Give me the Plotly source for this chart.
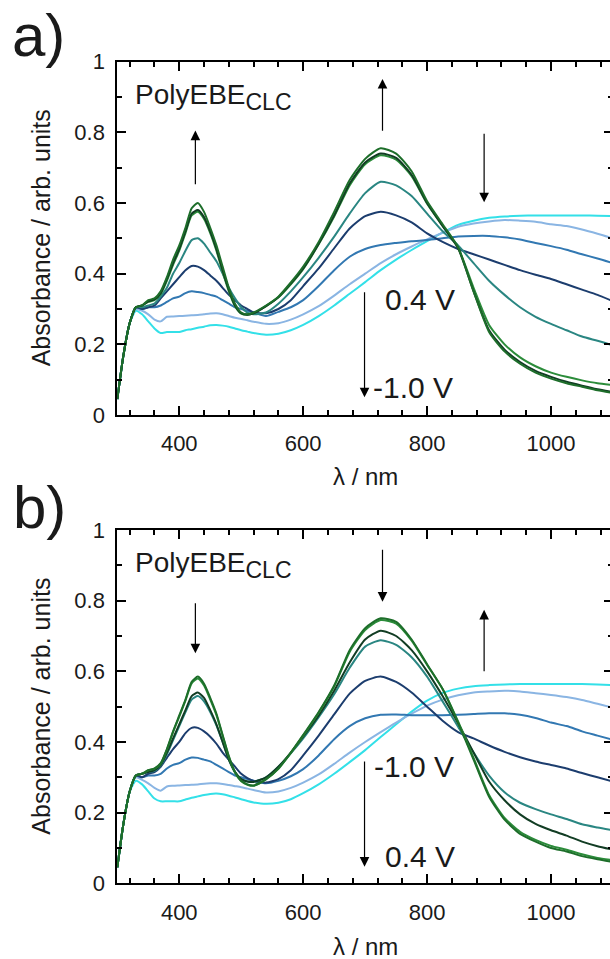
import plotly.graph_objects as go

W, H = 614, 959

wl = [300, 310, 320, 330, 340, 350, 360, 370, 380, 390, 400, 410, 420, 430, 440, 450, 460, 470,
      480, 490, 500, 510, 520, 540, 560, 580, 600, 625, 650, 675, 700, 725, 750, 775, 800, 825,
      850, 875, 900, 925, 950, 975, 1000, 1025, 1050, 1075, 1100]

# ---------- panel a ----------
a_green1 = [.045, .17, .26, .305, .31, .325, .33, .35, .39, .44, .48, .53, .585, .60, .575, .53, .48, .42,
            .36, .315, .29, .285, .29, .31, .335, .375, .42, .49, .575, .665, .725, .755, .74, .69, .605, .54,
            .475, .35, .235, .18, .145, .12, .103, .09, .08, .07, .062]
a_green2 = [.045, .17, .26, .305, .31, .322, .327, .345, .385, .43, .47, .52, .57, .58, .56, .52, .47, .41,
            .355, .31, .288, .284, .288, .308, .333, .372, .415, .485, .565, .655, .715, .74, .728, .68, .60, .535,
            .472, .35, .24, .185, .15, .125, .108, .094, .083, .073, .065]
a_green3 = [.045, .17, .26, .305, .31, .32, .325, .342, .38, .425, .465, .515, .565, .575, .555, .515, .465, .405,
            .35, .308, .287, .284, .288, .308, .333, .37, .413, .483, .562, .65, .71, .735, .723, .676, .598, .535,
            .474, .36, .255, .2, .163, .138, .12, .108, .098, .09, .085]
a_teal = [.045, .17, .26, .305, .305, .31, .315, .335, .36, .40, .43, .465, .495, .50, .485, .46, .435, .40,
          .36, .33, .305, .29, .285, .29, .315, .35, .39, .445, .505, .57, .628, .66, .65, .62, .57, .52,
          .48, .43, .38, .34, .305, .278, .258, .24, .222, .21, .197]
a_navy = [.045, .17, .26, .305, .30, .305, .31, .33, .35, .37, .39, .41, .422, .42, .41, .395, .38, .36,
          .34, .325, .31, .30, .29, .288, .30, .325, .365, .415, .472, .528, .563, .575, .565, .545, .514, .49,
          .47, .455, .44, .425, .41, .397, .385, .37, .355, .34, .322]
a_blue = [.045, .17, .26, .305, .30, .305, .305, .31, .32, .33, .335, .345, .35, .348, .345, .34, .335, .325,
          .315, .305, .30, .295, .29, .28, .292, .305, .325, .365, .41, .448, .47, .481, .487, .492, .495, .50,
          .505, .507, .507, .503, .497, .487, .478, .468, .455, .443, .43]
a_lblue = [.045, .17, .26, .30, .295, .285, .27, .265, .278, .279, .28, .281, .282, .283, .285, .287, .288, .285,
           .28, .275, .272, .268, .264, .258, .26, .27, .285, .308, .338, .37, .40, .43, .455, .477, .497, .516,
           .533, .542, .548, .552, .55, .547, .54, .535, .525, .513, .50]
a_cyan = [.045, .17, .26, .295, .285, .265, .245, .232, .235, .235, .235, .24, .243, .247, .25, .254, .255, .253,
          .25, .245, .24, .236, .232, .227, .23, .24, .255, .28, .31, .343, .376, .41, .44, .467, .492, .516,
          .538, .55, .558, .562, .564, .565, .565, .565, .565, .564, .563]

# ---------- panel b ----------
b_green1 = [.045, .17, .26, .305, .31, .32, .325, .34, .38, .43, .475, .52, .57, .585, .565, .525, .48, .42,
            .36, .315, .29, .28, .277, .295, .325, .37, .42, .485, .56, .66, .722, .75, .74, .69, .62, .55,
            .455, .35, .245, .18, .14, .118, .10, .09, .077, .068, .06]
b_green2 = [.045, .17, .26, .305, .31, .32, .324, .338, .378, .428, .472, .517, .566, .58, .56, .52, .476, .417,
            .358, .313, .289, .279, .276, .294, .324, .369, .418, .483, .557, .655, .717, .745, .735, .687, .618, .55,
            .458, .355, .25, .185, .146, .123, .106, .095, .082, .072, .065]
b_dark = [.045, .17, .26, .305, .31, .315, .32, .335, .37, .41, .45, .49, .53, .54, .525, .49, .45, .40,
          .35, .315, .295, .288, .287, .30, .33, .37, .415, .475, .545, .625, .69, .715, .70, .66, .60, .53,
          .453, .37, .288, .235, .195, .168, .15, .135, .118, .105, .095]
b_teal = [.045, .17, .26, .305, .31, .315, .318, .333, .365, .405, .445, .485, .52, .53, .515, .485, .447, .40,
          .35, .315, .295, .288, .287, .30, .33, .368, .41, .47, .535, .61, .67, .688, .675, .64, .585, .515,
          .443, .37, .305, .258, .228, .21, .195, .182, .167, .158, .15]
b_navy = [.045, .17, .26, .305, .30, .31, .315, .33, .355, .38, .40, .425, .44, .44, .43, .415, .395, .37,
          .35, .33, .31, .298, .29, .285, .295, .32, .362, .418, .478, .537, .573, .585, .57, .54, .50, .46,
          .428, .41, .39, .372, .357, .345, .335, .325, .312, .30, .288]
b_blue = [.045, .17, .26, .305, .30, .305, .305, .31, .325, .335, .34, .35, .356, .355, .35, .345, .335, .325,
          .315, .305, .30, .295, .29, .283, .29, .303, .323, .362, .408, .445, .467, .477, .478, .476, .476, .476,
          .477, .479, .481, .481, .477, .468, .455, .445, .43, .418, .406]
b_lblue = [.045, .17, .26, .30, .293, .283, .27, .262, .274, .276, .277, .278, .279, .28, .282, .283, .283, .281,
           .278, .275, .272, .268, .264, .257, .26, .27, .285, .308, .338, .37, .40, .428, .455, .48, .503, .52,
           .532, .54, .543, .545, .543, .538, .533, .527, .519, .508, .497]
b_cyan = [.045, .17, .26, .29, .28, .26, .24, .232, .232, .232, .232, .237, .242, .246, .25, .253, .254, .252,
          .248, .243, .238, .233, .229, .225, .228, .238, .255, .28, .31, .343, .377, .414, .45, .486, .517, .539,
          .551, .558, .561, .563, .564, .564, .564, .564, .564, .563, .561]

C_CYAN = "#33e0e8"
C_LBLUE = "#8ab5e3"
C_BLUE = "#3278b2"
C_NAVY = "#1c3d6e"
C_TEAL = "#2a8682"
C_DARK = "#123d24"
C_G1 = "#1d6e2a"
C_G2 = "#2b8c3a"

series_a = [(a_cyan, C_CYAN), (a_lblue, C_LBLUE), (a_blue, C_BLUE), (a_navy, C_NAVY), (a_teal, C_TEAL),
            (a_green3, C_G2), (a_green2, C_DARK), (a_green1, C_G1)]
series_b = [(b_cyan, C_CYAN), (b_lblue, C_LBLUE), (b_blue, C_BLUE), (b_navy, C_NAVY), (b_teal, C_TEAL),
            (b_dark, C_DARK), (b_green2, C_G2), (b_green1, C_G1)]

fig = go.Figure()
for vals, col in series_a:
    fig.add_trace(go.Scatter(x=wl, y=vals, mode="lines", line=dict(color=col, width=2, shape="spline", smoothing=0.6),
                             xaxis="x", yaxis="y", showlegend=False, hoverinfo="skip"))
for vals, col in series_b:
    fig.add_trace(go.Scatter(x=wl, y=vals, mode="lines", line=dict(color=col, width=2, shape="spline", smoothing=0.6),
                             xaxis="x2", yaxis="y2", showlegend=False, hoverinfo="skip"))

FONT = "Liberation Sans, Arial, sans-serif"
TXT = "#1a1a1a"


def px(v):
    return v / W


def py(v):
    return 1 - v / H


xdom = [px(117.3), px(613)]
common_x = dict(range=[300, 1100], tick0=0, dtick=200, ticks="inside", ticklen=9, tickwidth=1.5,
                tickcolor="black", showline=True, linecolor="black", linewidth=2, mirror="ticks",
                showgrid=False, zeroline=False, tickfont=dict(size=22, family=FONT, color=TXT),
                minor=dict(dtick=40, tick0=0, ticks="inside", ticklen=5, tickwidth=1.5, tickcolor="black"),
                domain=xdom, ticklabelstandoff=8, automargin=False)
common_y = dict(range=[0, 1], tick0=0, dtick=0.2, ticks="inside", ticklen=9, tickwidth=1.5,
                tickcolor="black", showline=True, linecolor="black", linewidth=2, mirror="ticks",
                showgrid=False, zeroline=False, tickfont=dict(size=22, family=FONT, color=TXT),
                minor=dict(dtick=0.1, tick0=0, ticks="inside", ticklen=5, tickwidth=1.5, tickcolor="black"),
                ticklabelstandoff=6, automargin=False)

fig.update_layout(
    width=W, height=H, margin=dict(l=0, r=0, t=0, b=0, autoexpand=False), paper_bgcolor="white",
    plot_bgcolor="white",
    xaxis=dict(**common_x, anchor="y"),
    yaxis=dict(**common_y, domain=[py(415), py(61.7)], anchor="x"),
    xaxis2=dict(**common_x, anchor="y2"),
    yaxis2=dict(**common_y, domain=[py(883.3), py(530)], anchor="x2"),
    font=dict(family=FONT, color=TXT),
)

ann = []
# panel letters
ann.append(dict(text="a)", xref="paper", yref="paper", x=px(10), y=py(0), xanchor="left", yanchor="top",
                showarrow=False, font=dict(size=60, family=FONT, color=TXT)))
ann.append(dict(text="b)", xref="paper", yref="paper", x=px(11), y=py(472), xanchor="left", yanchor="top",
                showarrow=False, font=dict(size=60, family=FONT, color=TXT)))
# axis titles
for yc in (238.3, 706.7):
    ann.append(dict(text="Absorbance / arb. units", xref="paper", yref="paper", x=px(41), y=py(yc),
                    xanchor="center", yanchor="middle", textangle=-90, showarrow=False,
                    font=dict(size=25, family=FONT, color=TXT)))
for yc in (477, 946):
    ann.append(dict(text="λ / nm", xref="paper", yref="paper", x=px(365), y=py(yc),
                    xanchor="center", yanchor="middle", showarrow=False,
                    font=dict(size=24, family=FONT, color=TXT)))

# in-plot labels
for xr, yr in (("x", "y"), ("x2", "y2")):
    ann.append(dict(text="PolyEBE<sub><span style='font-size:23px'>CLC</span></sub>", xref=xr, yref=yr,
                    x=325, y=0.9, xanchor="left", yanchor="middle", showarrow=False,
                    font=dict(size=28, family=FONT, color=TXT)))

ann.append(dict(text="0.4 V", xref="x", yref="y", x=728, y=0.328, xanchor="left", yanchor="middle",
                showarrow=False, font=dict(size=30, family=FONT, color=TXT)))
ann.append(dict(text="-1.0 V", xref="x", yref="y", x=709, y=0.078, xanchor="left", yanchor="middle",
                showarrow=False, font=dict(size=30, family=FONT, color=TXT)))
ann.append(dict(text="-1.0 V", xref="x2", yref="y2", x=711, y=0.33, xanchor="left", yanchor="middle",
                showarrow=False, font=dict(size=30, family=FONT, color=TXT)))
ann.append(dict(text="0.4 V", xref="x2", yref="y2", x=729, y=0.075, xanchor="left", yanchor="middle",
                showarrow=False, font=dict(size=30, family=FONT, color=TXT)))

# arrows: (xref, yref, x, y_tail, y_head)
arrows = [("x", "y", 426, 0.649, 0.805), ("x", "y", 728, 0.80, 0.951), ("x", "y", 892, 0.80, 0.602),
          ("x", "y", 699, 0.352, 0.05),
          ("x2", "y2", 426, 0.797, 0.651), ("x2", "y2", 728, 0.948, 0.797), ("x2", "y2", 892, 0.596, 0.774),
          ("x2", "y2", 699, 0.349, 0.047)]
for xr, yr, xx, yt, yh in arrows:
    ann.append(dict(text="", xref=xr, yref=yr, x=xx, y=yh, axref=xr, ayref=yr, ax=xx, ay=yt,
                    showarrow=True, arrowhead=2, arrowsize=1.6, arrowwidth=1.2, arrowcolor="black"))

fig.update_layout(annotations=ann)

fig.write_html("out.html", config={"displayModeBar": False},
               post_script="document.body.style.margin='0px';document.body.style.overflow='hidden';")
